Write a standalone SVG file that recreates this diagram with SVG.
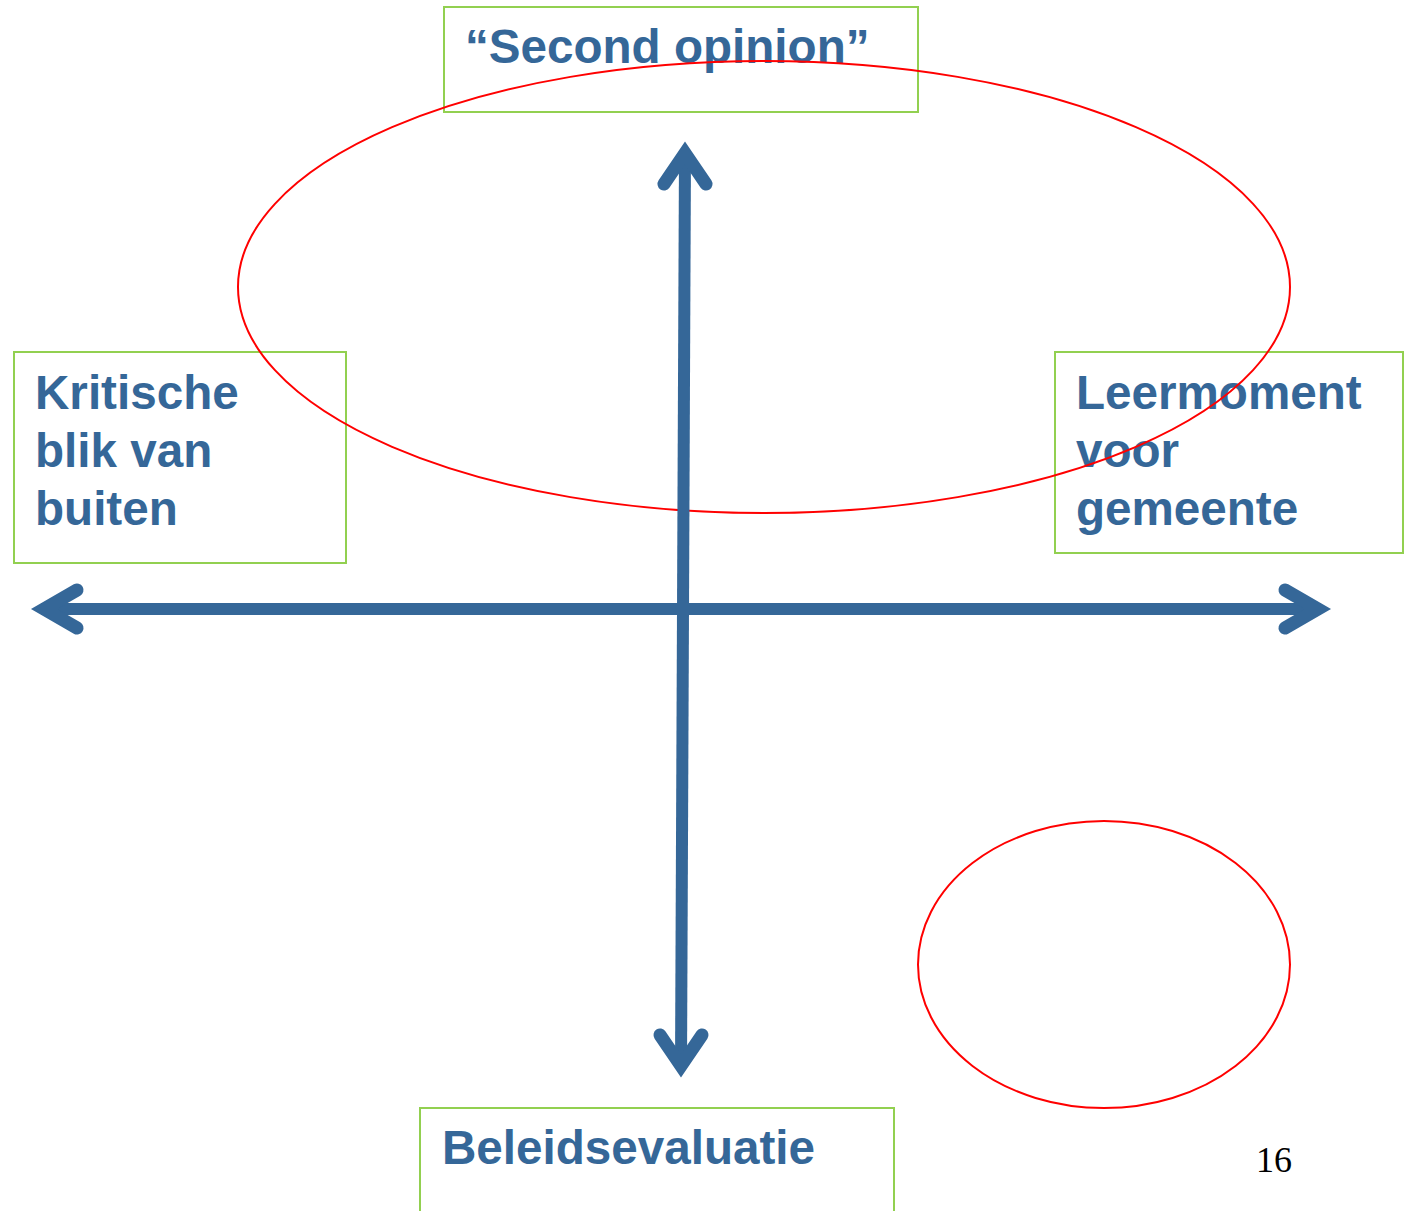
<svg xmlns="http://www.w3.org/2000/svg" width="1408" height="1211" viewBox="0 0 1408 1211">
<style>
.box{fill:none;stroke:#92d050;stroke-width:2}
.lbl{font-family:"Liberation Sans",Arial,sans-serif;font-weight:bold;font-size:47.6px;fill:#356798}
.oval{fill:none;stroke:#ff0000;stroke-width:2}
.ax{fill:none;stroke:#356798;stroke-width:12}
.head{fill:none;stroke:#356798;stroke-width:13;stroke-linecap:round;stroke-linejoin:miter;stroke-miterlimit:10}
</style>
<rect width="1408" height="1211" fill="#ffffff"/>
<g id="node-second-opinion">
<rect class="box" x="444" y="7" width="474" height="105"/>
<text class="lbl" x="465" y="63">“Second opinion”</text>
</g>
<g id="node-kritische">
<rect class="box" x="14" y="352" width="332" height="211"/>
<text class="lbl" x="35" y="409">Kritische</text>
<text class="lbl" x="35" y="467">blik van</text>
<text class="lbl" x="35" y="525">buiten</text>
</g>
<g id="node-leermoment">
<rect class="box" x="1055" y="352" width="348" height="201"/>
<text class="lbl" x="1076" y="409">Leermoment</text>
<text class="lbl" x="1076" y="467">voor</text>
<text class="lbl" x="1076" y="525">gemeente</text>
</g>
<g id="node-beleidsevaluatie">
<rect class="box" x="420" y="1108" width="474" height="110"/>
<text class="lbl" x="442" y="1164">Beleidsevaluatie</text>
</g>
<g id="ovals">
<ellipse class="oval" cx="764" cy="287" rx="526" ry="226"/>
<ellipse class="oval" cx="1104" cy="964.5" rx="186" ry="143.5"/>
</g>
<text x="1256" y="1172" font-family="'Liberation Serif','Times New Roman',serif" font-size="36" fill="#000000">16</text>
<g id="connectors">
<line class="ax" x1="685" y1="152" x2="681" y2="1068"/>
<line class="ax" x1="42" y1="609" x2="1320" y2="609"/>
<polyline class="head" points="664,184 685,153 706,184"/>
<polyline class="head" points="660,1035 681,1066 702,1035"/>
<polyline class="head" points="77,590 44,609 77,628"/>
<polyline class="head" points="1285,590 1318,609 1285,628"/>
</g>
</svg>
